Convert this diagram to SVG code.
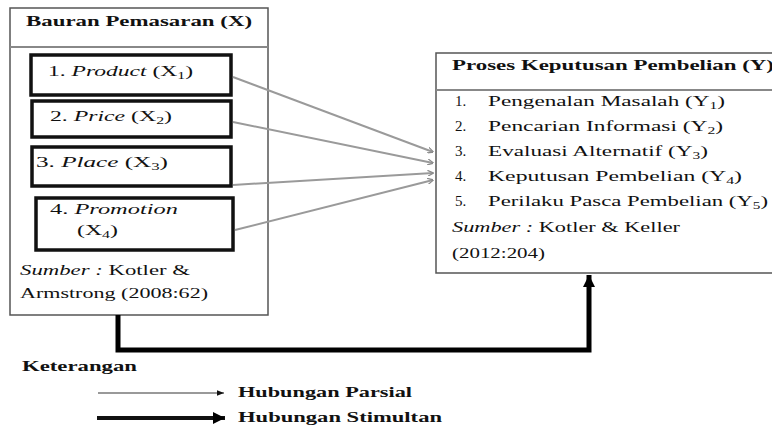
<svg xmlns="http://www.w3.org/2000/svg" width="772" height="429" viewBox="0 0 772 429">
<style>
text{font-family:"Liberation Serif","Times New Roman",serif;fill:#111;}
.b{font-weight:bold;font-size:15px;}
.t{font-size:15px;}
.i{font-style:italic;}
.outer{fill:#fff;stroke:#555;stroke-width:1.5;}
.sep{stroke:#888;stroke-width:2;}
.inner{fill:#fff;stroke:#111;stroke-width:3.5;}
.thin{stroke:#9a9a9a;stroke-width:2;fill:none;}
.thick{stroke:#000;stroke-width:5;fill:none;}
</style>
<defs>
<marker id="ah" viewBox="0 0 10 10" refX="9" refY="5" markerWidth="6" markerHeight="6" orient="auto" markerUnits="userSpaceOnUse">
<path d="M0,0 L10,5 L0,10" fill="none" stroke="#8a8a8a" stroke-width="2"/>
</marker>
<marker id="ahl" viewBox="0 0 10 10" refX="10" refY="5" markerWidth="8" markerHeight="7" orient="auto" markerUnits="userSpaceOnUse">
<path d="M0,1 L10,5 L0,9 z" fill="#111"/>
</marker>
<marker id="ahk" viewBox="0 0 10 10" refX="10" refY="5" markerWidth="14" markerHeight="12" orient="auto" markerUnits="userSpaceOnUse">
<path d="M0,0 L10,5 L0,10 z" fill="#000"/>
</marker>
</defs>

<g id="bauran">
<rect class="outer" x="10" y="8" width="258" height="307"/>
<line class="sep" x1="10" y1="47" x2="268" y2="47"/>
<text class="b" x="26" y="26" textLength="226" lengthAdjust="spacingAndGlyphs">Bauran Pemasaran (X)</text>
<text class="t" x="20" y="275" textLength="170" lengthAdjust="spacingAndGlyphs"><tspan class="i">Sumber :</tspan> Kotler &amp;</text>
<text class="t" x="20" y="298" textLength="188" lengthAdjust="spacingAndGlyphs">Armstrong (2008:62)</text>
</g>

<g id="x1">
<rect class="inner" x="31" y="55" width="200" height="40"/>
<text class="t" x="48" y="76" textLength="145" lengthAdjust="spacingAndGlyphs">1.  <tspan class="i">Product</tspan> (X<tspan font-size="10" dy="3">1</tspan><tspan dy="-3">)</tspan></text>
</g>
<g id="x2">
<rect class="inner" x="32" y="101" width="199" height="36"/>
<text class="t" x="50" y="121" textLength="122" lengthAdjust="spacingAndGlyphs">2.  <tspan class="i">Price</tspan> (X<tspan font-size="10" dy="3">2</tspan><tspan dy="-3">)</tspan></text>
</g>
<g id="x3">
<rect class="inner" x="32" y="147" width="199" height="39"/>
<text class="t" x="36" y="167" textLength="132" lengthAdjust="spacingAndGlyphs">3. <tspan class="i">Place</tspan> (X<tspan font-size="10" dy="3">3</tspan><tspan dy="-3">)</tspan></text>
</g>
<g id="x4">
<rect class="inner" x="36" y="198" width="197" height="52"/>
<text class="t" x="50" y="214" textLength="128" lengthAdjust="spacingAndGlyphs">4.  <tspan class="i">Promotion</tspan></text>
<text class="t" x="77" y="235" textLength="41" lengthAdjust="spacingAndGlyphs">(X<tspan font-size="10" dy="3">4</tspan><tspan dy="-3">)</tspan></text>
</g>

<g id="proses">
<rect class="outer" x="436" y="53" width="345" height="220"/>
<line class="sep" x1="436" y1="90" x2="772" y2="90"/>
<text class="b" x="452" y="70" textLength="322" lengthAdjust="spacingAndGlyphs">Proses Keputusan Pembelian (Y)</text>
<text class="t" x="455" y="106">1.</text>
<text class="t" x="488" y="106" textLength="237" lengthAdjust="spacingAndGlyphs">Pengenalan Masalah (Y<tspan font-size="10" dy="3">1</tspan><tspan dy="-3">)</tspan></text>
<text class="t" x="455" y="131">2.</text>
<text class="t" x="488" y="131" textLength="235" lengthAdjust="spacingAndGlyphs">Pencarian Informasi (Y<tspan font-size="10" dy="3">2</tspan><tspan dy="-3">)</tspan></text>
<text class="t" x="455" y="156">3.</text>
<text class="t" x="488" y="156" textLength="220" lengthAdjust="spacingAndGlyphs">Evaluasi Alternatif (Y<tspan font-size="10" dy="3">3</tspan><tspan dy="-3">)</tspan></text>
<text class="t" x="455" y="181">4.</text>
<text class="t" x="488" y="181" textLength="254" lengthAdjust="spacingAndGlyphs">Keputusan Pembelian (Y<tspan font-size="10" dy="3">4</tspan><tspan dy="-3">)</tspan></text>
<text class="t" x="455" y="206">5.</text>
<text class="t" x="488" y="206" textLength="280" lengthAdjust="spacingAndGlyphs">Perilaku Pasca Pembelian (Y<tspan font-size="10" dy="3">5</tspan><tspan dy="-3">)</tspan></text>
<text class="t" x="452" y="232" textLength="228" lengthAdjust="spacingAndGlyphs"><tspan class="i">Sumber :</tspan> Kotler &amp; Keller</text>
<text class="t" x="452" y="258" textLength="93" lengthAdjust="spacingAndGlyphs">(2012:204)</text>
</g>

<g id="connectors">
<line class="thin" x1="233" y1="77" x2="433" y2="152" marker-end="url(#ah)"/>
<line class="thin" x1="233" y1="122" x2="433" y2="163" marker-end="url(#ah)"/>
<line class="thin" x1="233" y1="185" x2="433" y2="173" marker-end="url(#ah)"/>
<line class="thin" x1="235" y1="230" x2="433" y2="180" marker-end="url(#ah)"/>
<path class="thick" d="M118,315 V350 H589 V275" marker-end="url(#ahk)"/>
</g>

<g id="legend">
<text class="b" x="22" y="371" textLength="115" lengthAdjust="spacingAndGlyphs">Keterangan</text>
<line x1="98" y1="393" x2="224" y2="393" stroke="#777" stroke-width="1.5" marker-end="url(#ahl)"/>
<text class="b" x="238" y="397" textLength="174" lengthAdjust="spacingAndGlyphs">Hubungan Parsial</text>
<line x1="97" y1="418" x2="225" y2="418" stroke="#111" stroke-width="4" marker-end="url(#ahk)"/>
<text class="b" x="238" y="422" textLength="204" lengthAdjust="spacingAndGlyphs">Hubungan Stimultan</text>
</g>
</svg>
